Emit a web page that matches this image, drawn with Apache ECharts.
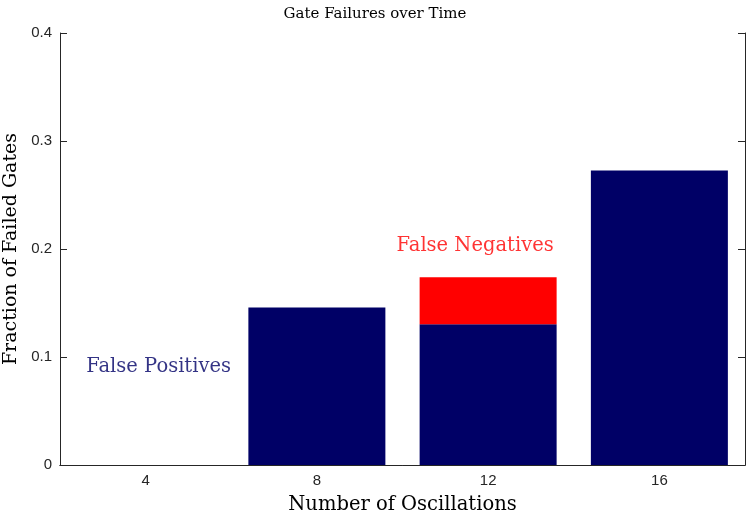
<!DOCTYPE html>
<html><head><meta charset="utf-8">
<script src="https://cdn.jsdelivr.net/npm/echarts@6/dist/echarts.min.js"></script>
<style>html,body{margin:0;padding:0;background:#fff}#c{width:750px;height:516px}</style>
</head><body><div id="c"></div>
<script>
const categories = ['4', '8', '12', '16'];
const falsePositives = [0, 0.1458, 0.1304, 0.2727];
const falseNegatives = [0, 0, 0.0435, 0];
const yTicks = [0, 0.1, 0.2, 0.3, 0.4];
const annotations = [
  {text: 'False Positives', cat: '4', y: 0.0907, color: '#000066'},
  {text: 'False Negatives', cat: '12', y: 0.2028, color: '#ff0000'}
];

const serif = '"DejaVu Serif", "Liberation Serif", serif';
const sans = '"Liberation Sans", Arial, sans-serif';
const axisColor = '#262626';
const chart = echarts.init(document.getElementById('c'), null, {renderer: 'canvas'});
chart.setOption({
  animation: false,
  title: {text: 'Gate Failures over Time', left: 'center', top: 2,
    textStyle: {fontFamily: serif, fontWeight: 'normal', fontSize: 15, color: '#000'}},
  grid: {left: 60, right: 5, top: 33, bottom: 51, containLabel: false, outerBoundsMode: 'none'},
  xAxis: [{
    type: 'category', data: categories, position: 'bottom',
    name: 'Number of Oscillations', nameLocation: 'middle', nameGap: 30,
    nameTextStyle: {fontFamily: serif, fontSize: 19.5, color: '#000'},
    axisLine: {lineStyle: {color: axisColor, width: 1}},
    axisTick: {inside: true, alignWithLabel: true, length: 7, lineStyle: {color: axisColor}},
    axisLabel: {fontFamily: sans, fontSize: 15, color: '#262626', margin: 8},
    splitLine: {show: false}
  }, {
    type: 'category', data: categories, position: 'top',
    axisLine: {lineStyle: {color: axisColor, width: 1}},
    axisTick: {inside: true, alignWithLabel: true, length: 7, lineStyle: {color: axisColor}},
    axisLabel: {show: false}
  }],
  yAxis: [{
    type: 'value', min: 0, max: 0.4, interval: 0.1,
    name: 'Fraction of Failed Gates', nameLocation: 'middle', nameGap: 34,
    nameTextStyle: {fontFamily: serif, fontSize: 19, color: '#000'},
    axisLine: {show: true, lineStyle: {color: axisColor, width: 1}},
    axisTick: {show: true, inside: true, length: 7, lineStyle: {color: axisColor}},
    axisLabel: {fontFamily: sans, fontSize: 15, color: '#262626', margin: 8,
      formatter: v => (yTicks.indexOf(Math.round(v*10)/10) >= 0 ? (v === 0 ? '0' : v.toFixed(1)) : '')},
    splitLine: {show: false}
  }, {
    type: 'value', min: 0, max: 0.4, interval: 0.1, position: 'right',
    axisLine: {show: true, lineStyle: {color: axisColor, width: 1}},
    axisTick: {show: true, inside: true, length: 7, lineStyle: {color: axisColor}},
    axisLabel: {show: false}, splitLine: {show: false}
  }],
  series: [{
    type: 'bar', stack: 'a', data: falsePositives, barWidth: '80%',
    itemStyle: {color: '#000066'}
  }, {
    type: 'bar', stack: 'a', data: falseNegatives, barWidth: '80%',
    itemStyle: {color: '#ff0000'}
  }, {
    type: 'scatter', symbolSize: 0,
    data: annotations.map(a => ({value: [a.cat, a.y],
      label: {show: true, formatter: a.text, color: a.color, position: 'inside',
        offset: [a.cat === '4' ? 13 : -13, 0],
        fontFamily: serif, fontSize: 19.5}})),
    silent: true
  }]
});
</script></body></html>
